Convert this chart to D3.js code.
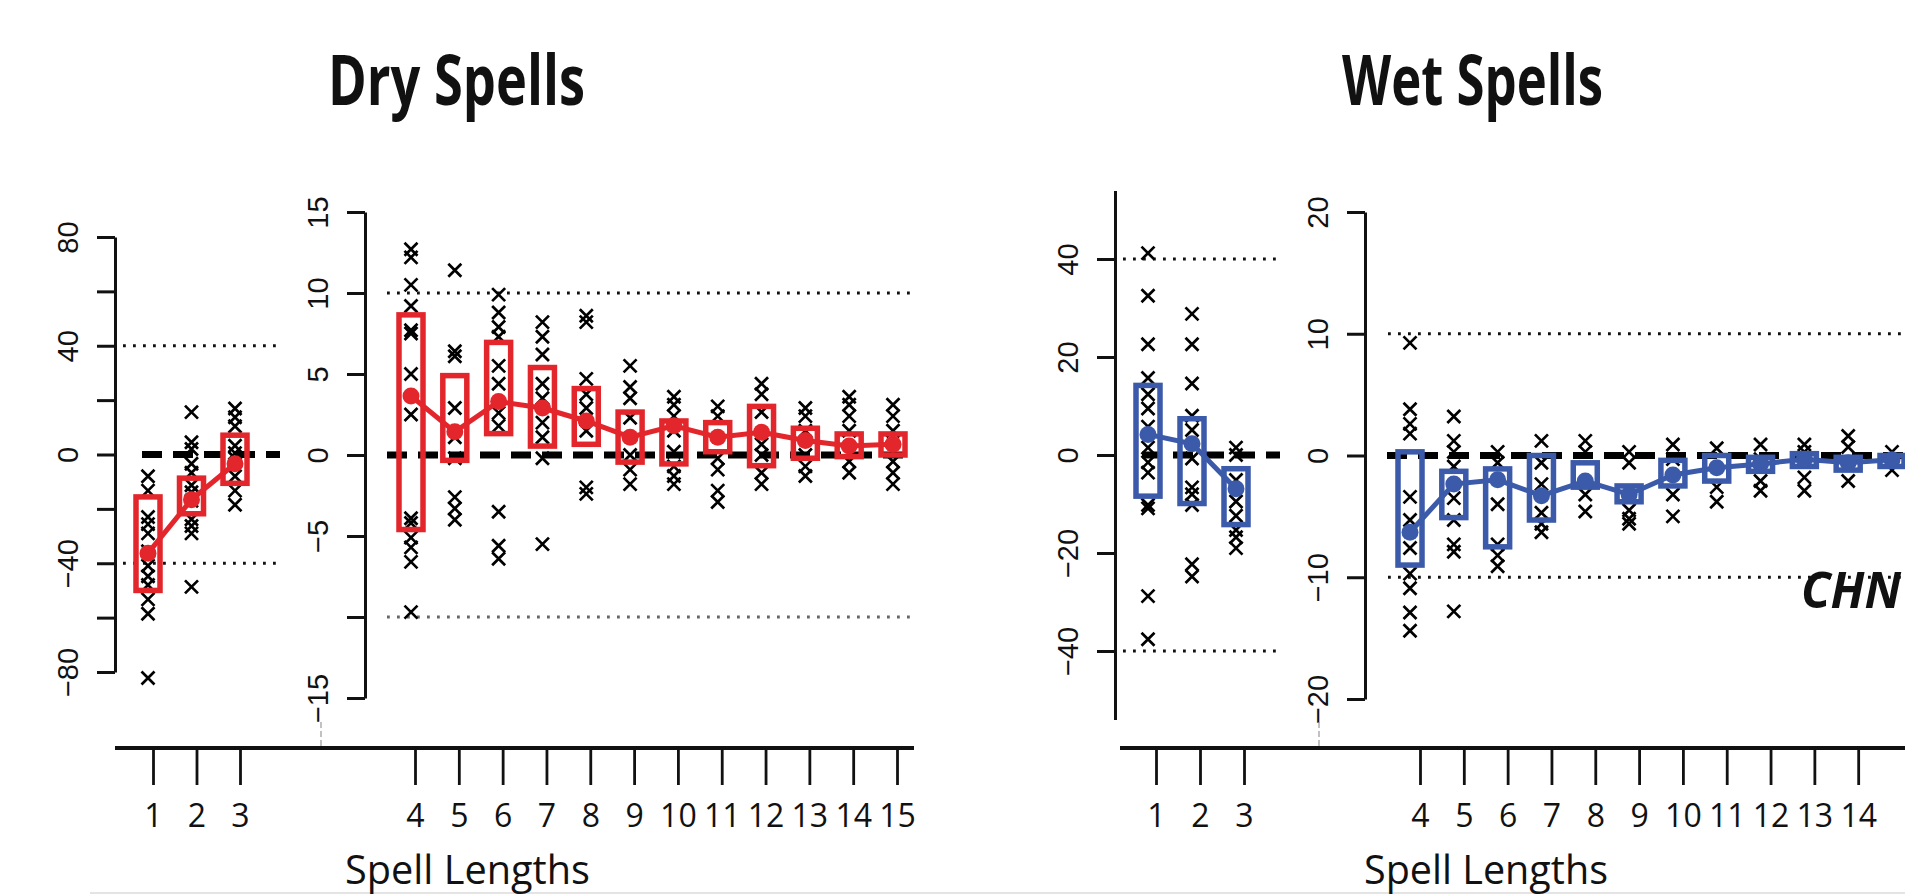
<!DOCTYPE html>
<html>
<head>
<meta charset="utf-8">
<script src="https://cdn.jsdelivr.net/npm/d3@7"></script>
<style>
  body { margin: 0; background: #fff; }
  svg { display: block; }
  .ylab { font-family: "Liberation Sans", Arial, sans-serif; font-size: 29px; fill: #111; }
  .xlab { font-family: "Open Sans", sans-serif; font-size: 32px; fill: #111; }
  .title { font-family: "Open Sans", sans-serif; font-weight: 700; font-size: 70px; fill: #111; }
  .axtitle { font-family: "Open Sans", sans-serif; font-size: 41px; fill: #111; }
</style>
</head>
<body>
<svg id="chart" width="1905" height="895"></svg>
<script>
'use strict';

// spell lengths, split as in the figure (short ones get their own y scale)
var spellsShort = [1, 2, 3];
var spellsLong = [4, 5, 6, 7, 8, 9, 10, 11, 12, 13, 14, 15];

// dry spells: individual station values (x), box limits and mean
var dryPoints = [
  [-8, -13.3, -23, -25.6, -29, -35.6, -40.9, -44.8, -48, -53.3, -58.6, -82.2],
  [15.6, 4.5, 2, -3.4, -6.7, -11.3, -13.9, -17, -23.8, -26.3, -29, -48.7],
  [16.9, 13.7, 10.4, 3.2, 0.5, -1.4, -8, -13.3, -18.5],
  [12.7, 12.2, 10.5, 9.2, 7.7, 7.5, 5.0, 2.5, -3.9, -4.2, -5.1, -5.7, -6.6, -9.7],
  [11.4, 6.4, 6.1, 2.9, 1.1, -0.2, -2.6, -3.3, -4.0],
  [9.9, 8.8, 7.9, 7.3, 5.5, 4.4, 2.6, 1.8, -3.5, -5.6, -6.4],
  [8.2, 7.3, 6.2, 4.4, 3.5, 2.0, 1.1, -0.2, -5.5],
  [8.6, 8.2, 4.7, 3.75, 2.9, 1.5, -2.0, -2.4],
  [5.5, 4.2, 3.5, 2.3, 0, -0.9, -1.8],
  [3.6, 3.1, 2.4, 1.5, 0.2, -0.7, -1.3, -1.8],
  [3.0, 2.4, -0.2, -0.9, -2.2, -2.9],
  [4.4, 3.75, 2.65, 0.66, 0, -1.1, -1.8],
  [2.9, 2.4, 1.5, 0, -0.7, -1.3],
  [3.6, 3.1, 2.4, 1.5, -0.4, -1.1],
  [3.1, 2.4, 1.5, -0.4, -1.1, -1.8]
];
var dryBoxLow = [-50.0, -21.8, -10.6, -4.6, -0.33, 1.32, 0.55, 0.66, -0.44, -0.55, 0.2, -0.66, -0.2, -0.1, 0];
var dryBoxHigh = [-15.6, -8.7, 7.1, 8.65, 4.9, 6.95, 5.4, 4.1, 2.65, 2.1, 2.0, 3.0, 1.65, 1.3, 1.3];
var dryMean = [-36.3, -16.6, -3.4, 3.64, 1.43, 3.3, 2.9, 2.1, 1.1, 1.8, 1.1, 1.4, 0.9, 0.55, 0.66];

// wet spells
var wetPoints = [
  [41.2, 32.5, 22.6, 15.7, 12.4, 9.5, 5.8, 1.5, -1.5, -3.6, -10.2, -10.9, -28.8, -37.6],
  [28.8, 22.6, 14.6, 8.0, 5.1, -0.7, -6.6, -8, -10.2, -22.3, -24.8],
  [1.5, 0, -5.1, -9.5, -12.4, -15.3, -16.8, -19],
  [9.25, 3.8, 2.6, 1.8, -3.4, -5.3, -7.6, -9.7, -10.9, -12.9, -14.4],
  [3.2, 1.2, 0.3, -0.9, -3.5, -5.3, -7.3, -7.9, -12.8],
  [0.3, -0.6, -4.0, -7.3, -8.2, -9.1],
  [1.2, -0.6, -2.35, -4.7, -5.6, -6.3],
  [1.2, 0.3, -3.2, -4.6],
  [0.3, -0.6, -4.5, -5.2, -5.6],
  [0.9, -0.3, -3.2, -5.0],
  [0.6, -2.6, -3.8],
  [0.9, -0.3, -2.1, -2.9],
  [0.9, 0.3, -1.8, -2.9],
  [1.6, 0.7, -2.1],
  [0.3, -1.2]
];
var wetBoxLow = [-8.4, -9.9, -14.2, -9.0, -5.1, -7.5, -5.3, -2.6, -3.8, -2.5, -2.1, -1.3, -0.9, -1.2, -0.9];
var wetBoxHigh = [14.2, 7.4, -2.8, 0.3, -1.3, -1.1, 0, -0.6, -2.5, -0.4, 0, -0.15, 0.15, -0.15, 0];
var wetMean = [4.2, 2.3, -6.9, -6.3, -2.35, -2.0, -3.3, -2.1, -3.2, -1.6, -1.0, -0.7, -0.3, -0.6, -0.35];

// y axis ticks and labels per panel
var dryShortTicks = [80, 60, 40, 20, 0, -20, -40, -60, -80];
var dryShortLabels = [80, 40, 0, -40, -80];
var dryLongTicks = [15, 10, 5, 0, -5, -10, -15];
var dryLongLabels = [15, 10, 5, 0, -5, -15];
var wetShortTicks = [40, 20, 0, -20, -40];
var wetShortLabels = [40, 20, 0, -20, -40];
var wetLongTicks = [20, 10, 0, -10, -20];
var wetLongLabels = [20, 10, 0, -10, -20];
var dryRefLines = [[40, -40], [10, -10]];
var wetRefLines = [[40, -40], [10, -10]];
var wetLongTickSpells = [4, 5, 6, 7, 8, 9, 10, 11, 12, 13, 14];

var RED = '#e3262b';
var BLUE = '#3b5aa9';

var svg = d3.select('#chart');
var fmt = d3.format('d');

function drawPanel(p) {
  var g = svg.append('g');

  // y axis
  var yAxis = d3.axisLeft(p.y)
    .tickValues(p.ticks)
    .tickSize(18)
    .tickSizeOuter(0)
    .tickFormat(function (d) { return p.labels.indexOf(d) >= 0 ? fmt(d) : ''; });
  var ax = g.append('g')
    .attr('transform', 'translate(' + p.axisX + ',0)')
    .call(yAxis);
  ax.select('.domain').attr('stroke', '#111').attr('stroke-width', 3);
  ax.selectAll('.tick line').attr('stroke', '#111').attr('stroke-width', 3);
  ax.selectAll('.tick text')
    .attr('class', 'ylab')
    .attr('x', null).attr('y', null)
    .attr('dy', '0.35em')
    .attr('text-anchor', 'middle')
    .attr('transform', 'translate(-47,0) rotate(-90)');
  ax.attr('font-family', null).attr('font-size', null);

  // reference lines
  g.selectAll('line.ref')
    .data(p.refs)
    .enter().append('line')
    .attr('class', 'ref')
    .attr('x1', p.refX[0]).attr('x2', p.refX[1])
    .attr('y1', function (d) { return p.y(d); })
    .attr('y2', function (d) { return p.y(d); })
    .attr('stroke', function (d, i) { return i === 1 && p.lightLower ? '#666' : '#111'; })
    .attr('stroke-width', 2.8)
    .attr('stroke-dasharray', '2.8,7.2');

  g.append('line')
    .attr('x1', p.zeroX[0]).attr('x2', p.zeroX[1])
    .attr('y1', p.y(0)).attr('y2', p.y(0))
    .attr('stroke', '#000')
    .attr('stroke-width', 7)
    .attr('stroke-dasharray', '20,11');

  var rows = p.spells.map(function (s, i) {
    return { s: s, pts: p.points[i], lo: p.low[i], hi: p.high[i], m: p.mean[i] };
  });

  // individual crosses
  var cross = 'M-6.5,-6.5L6.5,6.5M-6.5,6.5L6.5,-6.5';
  rows.forEach(function (r) {
    g.selectAll(null)
      .data(r.pts)
      .enter().append('path')
      .attr('d', cross)
      .attr('transform', function (v) { return 'translate(' + p.x(r.s) + ',' + p.y(v) + ')'; })
      .attr('stroke', '#000')
      .attr('stroke-width', 2.7)
      .attr('fill', 'none');
  });

  // boxes
  g.selectAll('rect.box')
    .data(rows)
    .enter().append('rect')
    .attr('class', 'box')
    .attr('x', function (d) { return p.x(d.s) - 12; })
    .attr('width', 24)
    .attr('y', function (d) { return p.y(d.hi); })
    .attr('height', function (d) { return p.y(d.lo) - p.y(d.hi); })
    .attr('fill', 'none')
    .attr('stroke', p.color)
    .attr('stroke-width', 5.5);

  // mean line and dots
  var line = d3.line()
    .x(function (d) { return p.x(d.s); })
    .y(function (d) { return p.y(d.m); });
  g.append('path')
    .datum(rows)
    .attr('d', line)
    .attr('fill', 'none')
    .attr('stroke', p.color)
    .attr('stroke-width', 5);
  g.selectAll('circle.mean')
    .data(rows)
    .enter().append('circle')
    .attr('class', 'mean')
    .attr('cx', function (d) { return p.x(d.s); })
    .attr('cy', function (d) { return p.y(d.m); })
    .attr('r', 8.5)
    .attr('fill', p.color);
}

function sub(arr, from, to) { return arr.slice(from, to); }

var xDryS = d3.scaleLinear().domain([1, 3]).range([148, 235]);
var xDryL = d3.scaleLinear().domain([4, 15]).range([411, 893]);
var xWetS = d3.scaleLinear().domain([1, 3]).range([1148, 1236]);
var xWetL = d3.scaleLinear().domain([4, 15]).range([1410, 1892]);

drawPanel({
  spells: spellsShort, points: sub(dryPoints, 0, 3), low: sub(dryBoxLow, 0, 3),
  high: sub(dryBoxHigh, 0, 3), mean: sub(dryMean, 0, 3), color: RED,
  x: xDryS, y: d3.scaleLinear().domain([-80, 80]).range([672, 237]),
  axisX: 115, ticks: dryShortTicks, labels: dryShortLabels,
  refs: dryRefLines[0], refX: [123, 280], zeroX: [142, 280]
});
drawPanel({
  spells: spellsLong, points: sub(dryPoints, 3), low: sub(dryBoxLow, 3),
  high: sub(dryBoxHigh, 3), mean: sub(dryMean, 3), color: RED,
  x: xDryL, y: d3.scaleLinear().domain([-15, 15]).range([698, 212]),
  axisX: 365, ticks: dryLongTicks, labels: dryLongLabels,
  refs: dryRefLines[1], refX: [387, 913], zeroX: [387, 913], lightLower: true
});
drawPanel({
  spells: spellsShort, points: sub(wetPoints, 0, 3), low: sub(wetBoxLow, 0, 3),
  high: sub(wetBoxHigh, 0, 3), mean: sub(wetMean, 0, 3), color: BLUE,
  x: xWetS, y: d3.scaleLinear().domain([-54, 54]).range([719.6, 190.4]),
  axisX: 1115, ticks: wetShortTicks, labels: wetShortLabels,
  refs: wetRefLines[0], refX: [1123, 1280], zeroX: [1142, 1280]
});
drawPanel({
  spells: spellsLong, points: sub(wetPoints, 3), low: sub(wetBoxLow, 3),
  high: sub(wetBoxHigh, 3), mean: sub(wetMean, 3), color: BLUE,
  x: xWetL, y: d3.scaleLinear().domain([-20, 20]).range([699, 212]),
  axisX: 1365, ticks: wetLongTicks, labels: wetLongLabels,
  refs: wetRefLines[1], refX: [1388, 1905], zeroX: [1387, 1905]
});

// bottom axes (pasted slightly right of the panels in the original)
function bottomAxis(scale, ticks, dx) {
  var a = svg.append('g')
    .attr('transform', 'translate(' + dx + ',748)')
    .call(d3.axisBottom(scale).tickValues(ticks).tickSize(37).tickPadding(19).tickFormat(fmt));
  a.select('.domain').remove();
  a.selectAll('.tick line').attr('stroke', '#111').attr('stroke-width', 2.8);
  a.selectAll('.tick text').attr('class', 'xlab');
  a.attr('font-family', null).attr('font-size', null);
}
bottomAxis(xDryS, spellsShort, 5);
bottomAxis(xDryL, spellsLong, 4);
bottomAxis(xWetS, spellsShort, 8);
bottomAxis(xWetL, wetLongTickSpells, 10);

[[115, 914], [1120, 1905]].forEach(function (e) {
  svg.append('line')
    .attr('x1', e[0]).attr('x2', e[1])
    .attr('y1', 748).attr('y2', 748)
    .attr('stroke', '#111').attr('stroke-width', 4);
});

// small leftovers of the cut-off panels
[321, 1319].forEach(function (x) {
  svg.append('line')
    .attr('x1', x).attr('x2', x).attr('y1', 722).attr('y2', 746)
    .attr('stroke', '#999').attr('stroke-width', 1.2)
    .attr('stroke-dasharray', '6,3');
});
svg.append('line')
  .attr('x1', 90).attr('x2', 1905).attr('y1', 893).attr('y2', 893)
  .attr('stroke', '#e4e4e4').attr('stroke-width', 2);

// titles
svg.append('text').attr('class', 'title')
  .attr('x', 328).attr('y', 105)
  .attr('textLength', 257).attr('lengthAdjust', 'spacingAndGlyphs')
  .text('Dry Spells');
svg.append('text').attr('class', 'title')
  .attr('x', 1342).attr('y', 105)
  .attr('textLength', 261).attr('lengthAdjust', 'spacingAndGlyphs')
  .text('Wet Spells');

svg.append('text').attr('class', 'axtitle')
  .attr('x', 345).attr('y', 884)
  .attr('textLength', 245).attr('lengthAdjust', 'spacingAndGlyphs')
  .text('Spell Lengths');
svg.append('text').attr('class', 'axtitle')
  .attr('x', 1364).attr('y', 884)
  .attr('textLength', 244).attr('lengthAdjust', 'spacingAndGlyphs')
  .text('Spell Lengths');

svg.append('text')
  .attr('x', 1801).attr('y', 608)
  .attr('font-family', '"Open Sans", sans-serif')
  .attr('font-weight', 700)
  .attr('font-style', 'italic')
  .attr('font-size', 50)
  .attr('fill', '#111')
  .attr('textLength', 100).attr('lengthAdjust', 'spacingAndGlyphs')
  .text('CHN');
</script>
</body>
</html>
